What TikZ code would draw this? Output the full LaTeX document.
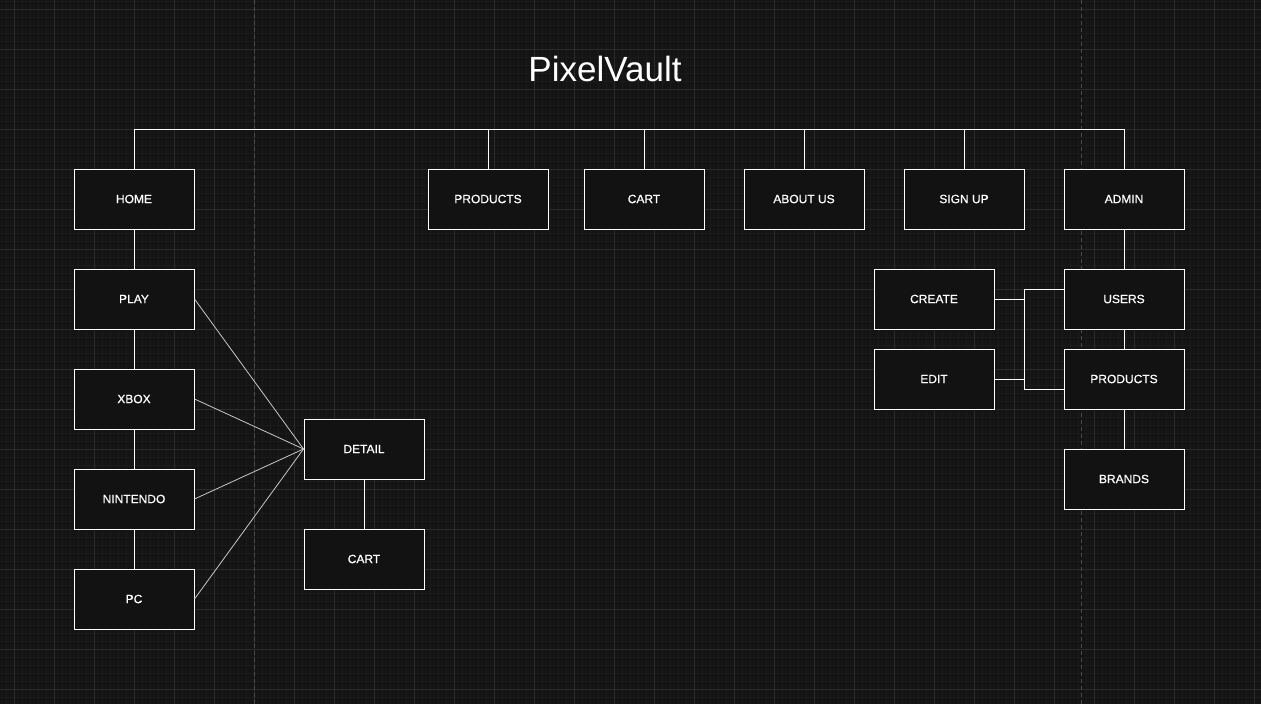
\documentclass[tikz,border=0pt]{standalone}
\usepackage{fontspec}
\setmainfont{Liberation Sans}
\newfontfamily\boxfont[FakeBold=0.6]{Liberation Sans}
\usetikzlibrary{positioning}

\definecolor{canvas}{HTML}{141414}
\definecolor{boxfill}{HTML}{121212}
\definecolor{minorgrid}{HTML}{1B1B1B}
\definecolor{majorgrid}{HTML}{2C2C2C}
\definecolor{pagemark}{HTML}{4A4A4A}
\definecolor{fanline}{HTML}{C8C8C8}

\tikzset{
    page/.style={draw=white, fill=boxfill, text=white, minimum width=120pt, minimum height=60pt,
        inner sep=0pt, line width=1pt, font=\boxfont\fontsize{12}{14}\selectfont},
    link/.style={draw=white, line width=1pt},
    fan/.style={draw=fanline, line width=0.8pt}
}

\begin{document}
\begin{tikzpicture}[x=1pt, y=-1pt, node distance=40pt]
    % Canvas
    \useasboundingbox (0,0) rectangle (1261,704);
    \fill[canvas] (0,0) rectangle (1261,704);
    \begin{scope}
        \clip (0,0) rectangle (1261,704);
        \foreach \x in {6,14,...,1254} \draw[minorgrid, line width=1pt] (\x,0) -- (\x,704);
        \foreach \y in {1,9,...,697} \draw[minorgrid, line width=1pt] (0,\y) -- (1261,\y);
        \foreach \x in {14,54,...,1254} \draw[majorgrid, line width=1pt] (\x,0) -- (\x,704);
        \foreach \y in {9,49,...,689} \draw[majorgrid, line width=1pt] (0,\y) -- (1261,\y);
        \draw[pagemark, line width=1pt, dash pattern=on 4pt off 3pt] (254,0) -- (254,704);
        \draw[pagemark, line width=1pt, dash pattern=on 4pt off 3pt] (1081,0) -- (1081,704);
    \end{scope}

    % Nodes
    \node[text=white, font=\fontsize{35}{40}\selectfont] (title) at (605,69) {PixelVault};
    \node[page] (home) at (134,199) {HOME};
    \node[page] (play) at (134,299) {PLAY};
    \node[page] (xbox) at (134,399) {XBOX};
    \node[page] (nintendo) at (134,499) {NINTENDO};
    \node[page] (pc) at (134,599) {PC};
    \node[page] (detail) at (364,449) {DETAIL};
    \node[page] (detail cart) at (364,559) {CART};
    \node[page] (products) at (488,199) {PRODUCTS};
    \node[page] (cart) at (644,199) {CART};
    \node[page] (about) at (804,199) {ABOUT US};
    \node[page] (signup) at (964,199) {SIGN UP};
    \node[page] (admin) at (1124,199) {ADMIN};
    \node[page] (users) at (1124,299) {USERS};
    \node[page] (admin products) at (1124,379) {PRODUCTS};
    \node[page] (brands) at (1124,479) {BRANDS};
    \node[page] (create) at (934,299) {CREATE};
    \node[page] (edit) at (934,379) {EDIT};
    \coordinate (bus) at (134,129);

    % Connections
    \draw[link] (home.north) -- (bus) -| (admin.north);
    \foreach \n in {products, cart, about, signup}
        \draw[link] (\n.north) -- (\n.north |- bus);
    \draw[link] (home) -- (play);
    \draw[link] (play) -- (xbox);
    \draw[link] (xbox) -- (nintendo);
    \draw[link] (nintendo) -- (pc);
    \foreach \n in {play, xbox, nintendo, pc}
        \draw[fan] (\n.east) -- (detail.west);
    \draw[link] (detail) -- (detail cart);
    \draw[link] (admin) -- (users);
    \draw[link] (users) -- (admin products);
    \draw[link] (admin products) -- (brands);
    \draw[link] (create.east) -- ++(30,0) |- ([yshift=-10pt]admin products.west);
    \draw[link] (edit.east) -- ++(30,0) |- ([yshift=10pt]users.west);
\end{tikzpicture}
\end{document}
